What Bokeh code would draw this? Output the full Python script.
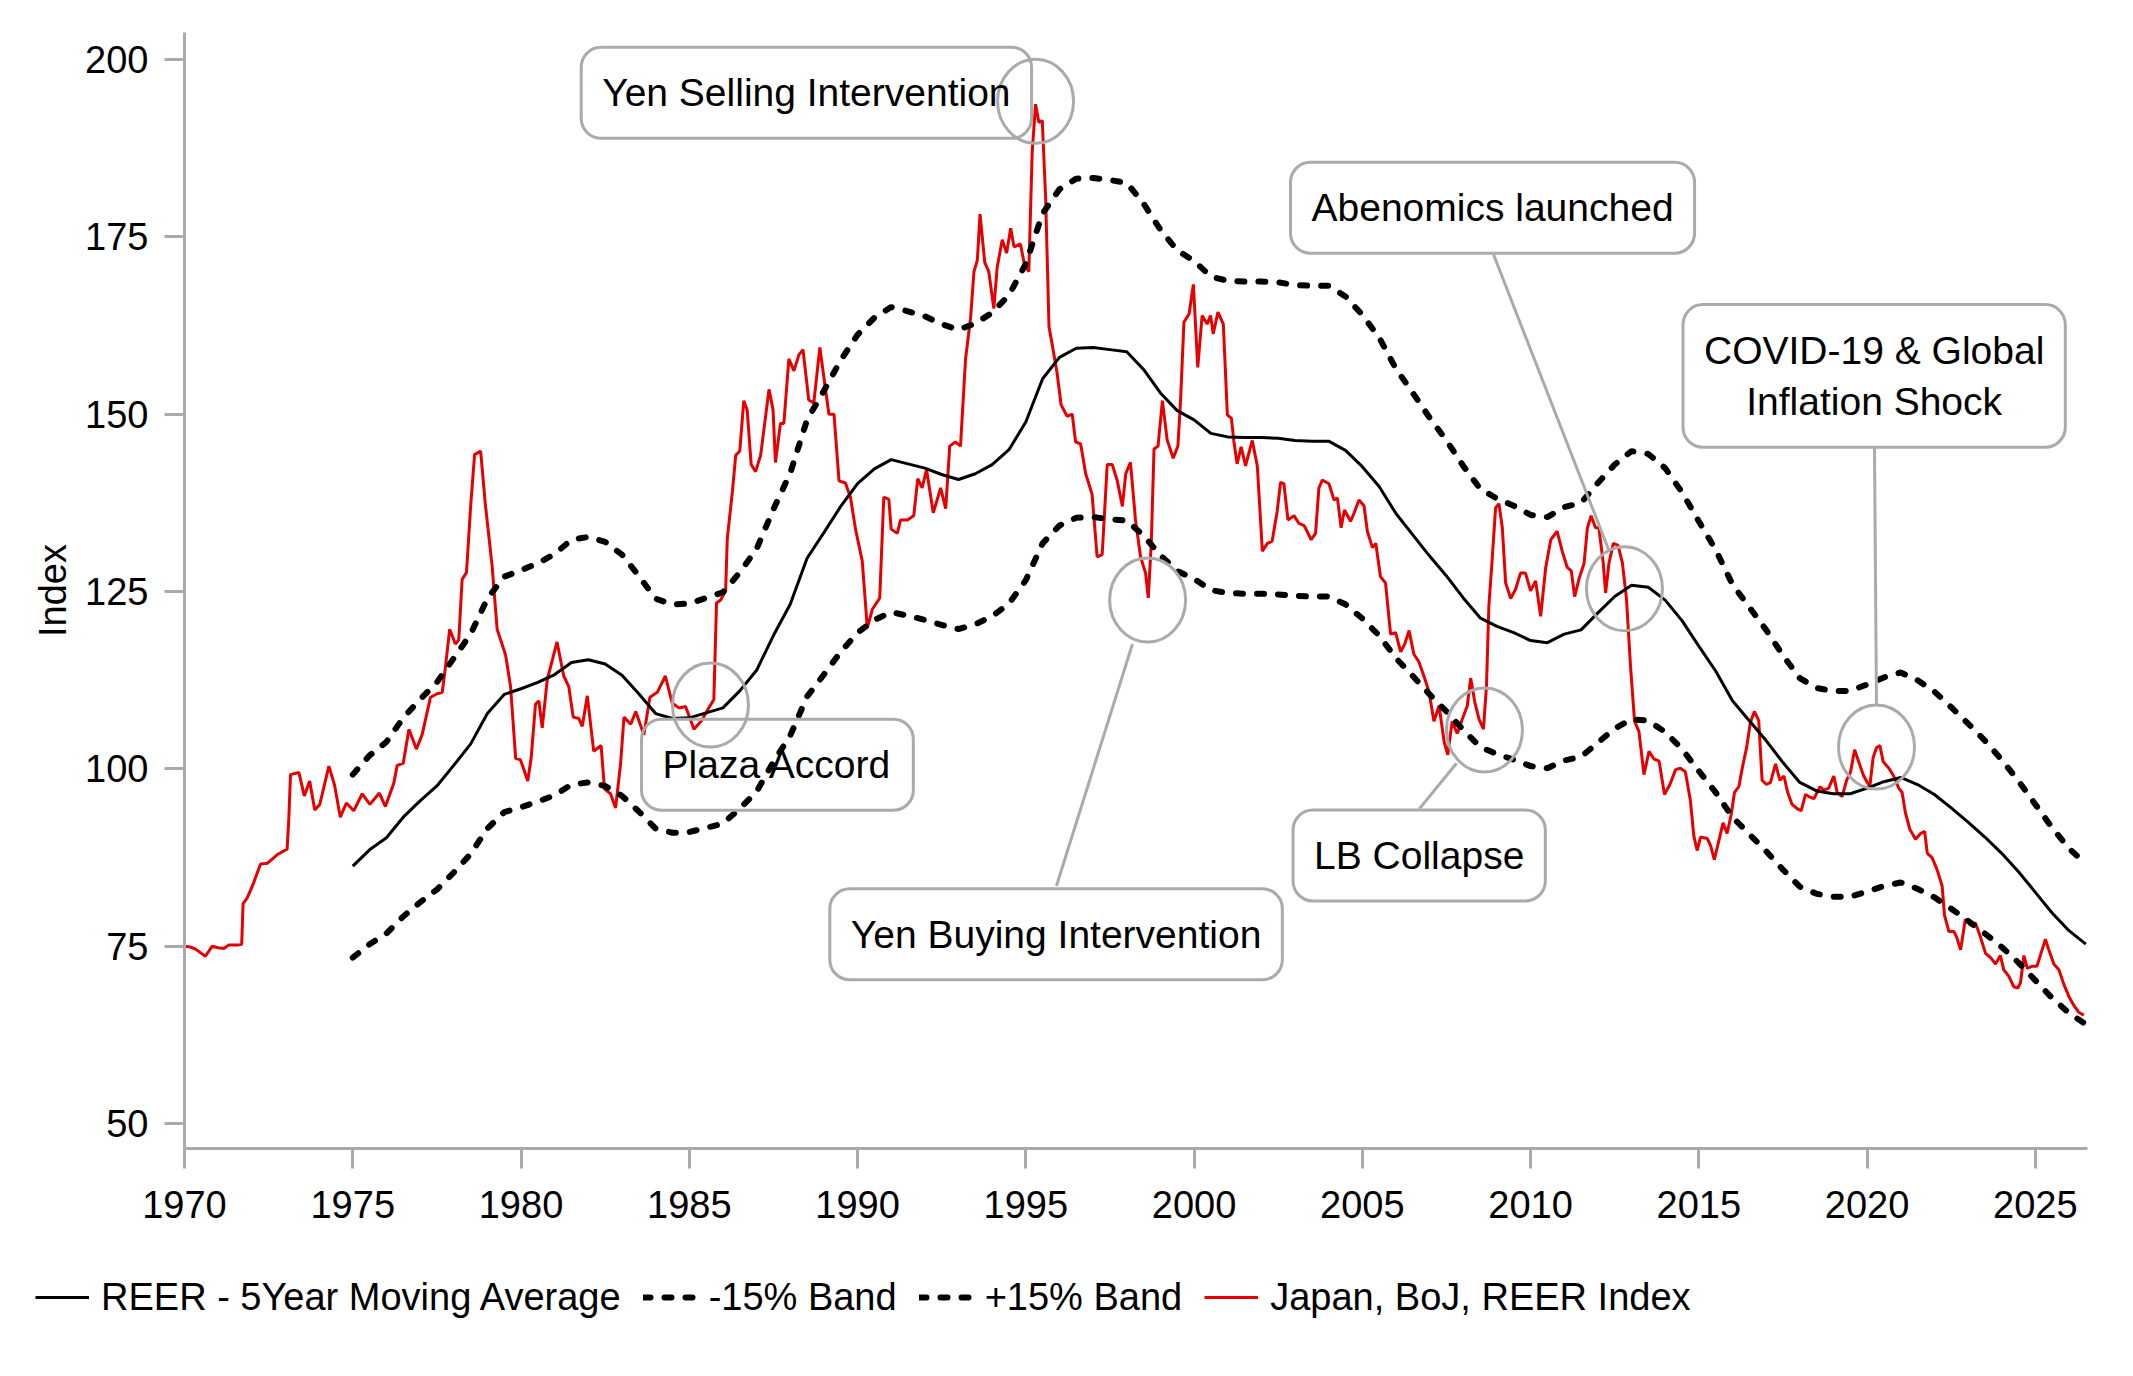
from bokeh.embed import file_html
from bokeh.layouts import column, row
from bokeh.models import FixedTicker, Label, Legend, LegendItem, Range1d
from bokeh.plotting import figure
from bokeh.resources import INLINE

# Japan REER (BoJ), decimal years
reer_year = [
    1970.00, 1970.17, 1970.33, 1970.50, 1970.62, 1970.82, 1971.00, 1971.17, 1971.32, 1971.61,
    1971.70, 1971.74, 1971.86, 1972.01, 1972.26, 1972.46, 1972.75, 1973.05, 1973.10, 1973.15,
    1973.40, 1973.56, 1973.72, 1973.87, 1974.02, 1974.29, 1974.46, 1974.63, 1974.81, 1975.03,
    1975.28, 1975.51, 1975.79, 1975.97, 1976.22, 1976.32, 1976.50, 1976.67, 1976.89, 1977.06,
    1977.31, 1977.51, 1977.66, 1977.76, 1977.88, 1978.05, 1978.15, 1978.25, 1978.38, 1978.50,
    1978.62, 1978.80, 1978.94, 1979.14, 1979.29, 1979.54, 1979.69, 1979.84, 1979.98, 1980.08,
    1980.20, 1980.30, 1980.43, 1980.53, 1980.63, 1980.78, 1981.07, 1981.27, 1981.42, 1981.55,
    1981.72, 1981.82, 1981.97, 1982.16, 1982.38, 1982.48, 1982.66, 1982.81, 1982.96, 1983.06,
    1983.26, 1983.41, 1983.65, 1983.83, 1984.05, 1984.29, 1984.49, 1984.69, 1984.89, 1985.14,
    1985.38, 1985.53, 1985.73, 1985.81, 1985.93, 1986.08, 1986.13, 1986.28, 1986.38, 1986.50,
    1986.62, 1986.72, 1986.84, 1986.97, 1987.12, 1987.37, 1987.49, 1987.56, 1987.71, 1987.81,
    1987.96, 1988.11, 1988.26, 1988.38, 1988.55, 1988.70, 1988.88, 1989.02, 1989.15, 1989.30,
    1989.45, 1989.64, 1989.79, 1989.94, 1990.14, 1990.29, 1990.44, 1990.66, 1990.78, 1990.93,
    1991.00, 1991.18, 1991.28, 1991.48, 1991.67, 1991.79, 1991.92, 1992.05, 1992.25, 1992.47,
    1992.62, 1992.74, 1992.91, 1993.06, 1993.21, 1993.36, 1993.46, 1993.56, 1993.64, 1993.78,
    1993.90, 1994.05, 1994.15, 1994.30, 1994.43, 1994.55, 1994.65, 1994.84, 1994.96, 1995.09,
    1995.19, 1995.29, 1995.39, 1995.49, 1995.59, 1995.69, 1995.79, 1995.93, 1996.05, 1996.23,
    1996.38, 1996.48, 1996.63, 1996.78, 1996.97, 1997.12, 1997.27, 1997.42, 1997.57, 1997.72,
    1997.87, 1997.97, 1998.11, 1998.26, 1998.41, 1998.56, 1998.64, 1998.73, 1998.81, 1998.93,
    1999.06, 1999.20, 1999.38, 1999.52, 1999.60, 1999.70, 1999.85, 1999.98, 2000.11, 2000.24,
    2000.39, 2000.49, 2000.57, 2000.71, 2000.87, 2000.99, 2001.11, 2001.18, 2001.28, 2001.40,
    2001.53, 2001.73, 2001.88, 2002.03, 2002.18, 2002.32, 2002.47, 2002.57, 2002.67, 2002.79,
    2002.97, 2003.12, 2003.27, 2003.36, 2003.48, 2003.61, 2003.71, 2003.81, 2004.01, 2004.16,
    2004.26, 2004.37, 2004.47, 2004.65, 2004.75, 2004.90, 2005.05, 2005.15, 2005.30, 2005.40,
    2005.54, 2005.69, 2005.84, 2005.99, 2006.14, 2006.26, 2006.39, 2006.53, 2006.68, 2006.83,
    2006.98, 2007.13, 2007.28, 2007.43, 2007.54, 2007.67, 2007.82, 2007.97, 2008.12, 2008.22,
    2008.34, 2008.47, 2008.60, 2008.69, 2008.76, 2008.86, 2008.96, 2009.06, 2009.16, 2009.26,
    2009.41, 2009.56, 2009.70, 2009.85, 2010.00, 2010.15, 2010.30, 2010.45, 2010.60, 2010.79,
    2010.94, 2011.09, 2011.21, 2011.31, 2011.44, 2011.59, 2011.69, 2011.80, 2011.93, 2012.03,
    2012.16, 2012.23, 2012.33, 2012.46, 2012.60, 2012.73, 2012.85, 2012.97, 2013.09, 2013.22,
    2013.37, 2013.52, 2013.67, 2013.82, 2013.98, 2014.14, 2014.31, 2014.45, 2014.60, 2014.75,
    2014.85, 2014.95, 2015.05, 2015.25, 2015.35, 2015.46, 2015.59, 2015.72, 2015.84, 2015.96,
    2016.06, 2016.19, 2016.29, 2016.42, 2016.53, 2016.65, 2016.78, 2016.88, 2017.01, 2017.13,
    2017.28, 2017.41, 2017.53, 2017.64, 2017.77, 2017.92, 2018.04, 2018.17, 2018.27, 2018.42,
    2018.60, 2018.71, 2018.86, 2019.01, 2019.11, 2019.26, 2019.39, 2019.51, 2019.63, 2019.75,
    2019.90, 2020.08, 2020.18, 2020.28, 2020.38, 2020.48, 2020.65, 2020.79, 2020.94, 2021.04,
    2021.14, 2021.27, 2021.44, 2021.59, 2021.71, 2021.79, 2021.93, 2022.08, 2022.23, 2022.30,
    2022.43, 2022.58, 2022.66, 2022.78, 2022.92, 2023.07, 2023.22, 2023.37, 2023.52, 2023.67,
    2023.82, 2023.96, 2024.06, 2024.21, 2024.36, 2024.48, 2024.56, 2024.66, 2024.76, 2024.91,
    2025.05, 2025.20, 2025.30, 2025.40, 2025.55, 2025.70, 2025.85, 2026.00, 2026.14, 2026.29,
    2026.44,
]
reer_value = [
    75.0, 74.9, 74.6, 74.0, 73.6, 75.0, 74.8, 74.7, 75.2, 75.2,
    75.3, 81.0, 81.8, 83.4, 86.6, 86.7, 87.9, 88.7, 93.0, 99.2,
    99.5, 96.2, 98.3, 94.2, 95.0, 100.4, 97.7, 93.2, 95.2, 94.1,
    96.5, 95.0, 96.6, 94.7, 98.0, 100.5, 100.8, 105.6, 102.8, 104.8,
    110.1, 110.6, 110.8, 114.6, 119.7, 117.6, 118.2, 126.7, 127.7, 136.8,
    144.3, 144.8, 137.3, 128.7, 119.7, 116.1, 111.6, 101.5, 101.3, 100.0,
    98.3, 101.5, 109.1, 109.6, 105.8, 112.6, 117.9, 113.1, 111.6, 107.3,
    107.1, 106.0, 110.3, 102.5, 103.3, 97.2, 96.5, 94.5, 100.8, 107.3,
    106.3, 108.1, 104.8, 110.1, 110.8, 113.1, 109.3, 108.6, 108.8, 105.6,
    106.9, 108.2, 109.8, 123.4, 123.8, 125.1, 132.5, 139.0, 144.2, 144.8,
    151.9, 150.6, 142.9, 141.9, 144.2, 153.5, 150.6, 143.2, 148.7, 148.7,
    157.8, 156.1, 158.4, 159.1, 152.0, 151.6, 159.4, 154.5, 150.0, 150.0,
    140.6, 140.3, 138.3, 133.8, 129.3, 119.9, 122.5, 124.1, 138.3, 138.0,
    133.8, 133.2, 135.1, 135.1, 135.7, 140.9, 139.6, 142.2, 136.1, 139.6,
    136.7, 145.5, 146.1, 145.5, 157.8, 163.6, 170.1, 171.7, 178.2, 171.4,
    170.1, 164.9, 170.7, 174.6, 172.7, 176.2, 173.6, 174.0, 171.1, 170.1,
    186.9, 193.7, 191.1, 191.4, 180.4, 162.3, 159.7, 155.8, 151.3, 149.7,
    150.0, 146.1, 145.8, 141.6, 138.7, 129.9, 130.2, 142.9, 142.9, 140.6,
    137.0, 141.6, 143.2, 135.1, 129.9, 127.6, 124.1, 131.9, 145.1, 145.5,
    151.9, 146.4, 143.8, 145.5, 152.0, 163.0, 164.1, 168.3, 156.6, 163.9,
    162.7, 163.9, 161.3, 164.4, 162.7, 149.9, 149.4, 146.3, 143.0, 145.4,
    142.7, 146.3, 142.7, 130.7, 131.8, 132.1, 136.3, 140.4, 140.2, 135.1,
    135.7, 134.6, 134.3, 133.5, 132.3, 133.2, 139.6, 140.7, 140.2, 137.9,
    138.2, 134.0, 136.5, 134.9, 136.0, 137.9, 137.1, 133.5, 131.2, 131.8,
    127.1, 126.2, 119.0, 119.2, 116.5, 117.6, 119.5, 116.2, 115.1, 113.1,
    110.9, 106.7, 108.9, 103.9, 102.0, 106.7, 105.0, 107.0, 108.9, 112.8,
    109.5, 107.0, 105.6, 111.7, 122.9, 129.6, 136.8, 137.4, 134.0, 126.2,
    124.0, 125.4, 127.6, 127.6, 125.1, 126.5, 121.5, 128.4, 132.3, 133.5,
    130.7, 128.4, 127.9, 124.3, 126.8, 129.0, 134.0, 135.7, 134.0, 134.0,
    129.0, 124.8, 129.0, 131.8, 131.5, 129.0, 124.0, 114.5, 106.7, 105.3,
    99.2, 102.5, 101.4, 101.1, 96.4, 97.8, 99.9, 100.1, 99.6, 95.5,
    90.6, 88.5, 90.4, 90.2, 89.2, 87.2, 89.8, 92.4, 90.9, 93.5,
    96.7, 97.5, 100.1, 103.0, 106.5, 108.1, 106.8, 98.4, 97.8, 98.1,
    100.7, 98.4, 99.0, 96.7, 95.0, 94.4, 94.1, 96.4, 96.1, 95.8,
    97.5, 97.0, 97.3, 99.0, 96.7, 96.1, 98.4, 99.6, 102.7, 101.0,
    99.0, 97.5, 101.6, 103.0, 103.3, 101.0, 100.1, 99.0, 97.3, 96.7,
    93.8, 91.5, 90.1, 90.9, 91.2, 88.1, 87.5, 85.8, 83.5, 79.4,
    77.1, 77.1, 76.3, 74.5, 78.8, 78.0, 78.3, 76.3, 74.0, 73.4,
    72.5, 73.7, 71.7, 70.8, 69.3, 69.1, 69.9, 73.7, 71.9, 72.2,
    72.2, 74.5, 76.0, 74.5, 72.5, 71.7, 69.6, 67.9, 66.7, 65.7,
    65.3,
]

# 5-year moving average and its bands, half-yearly from 1975.0
ma_year = [1975 + 0.5 * i for i in range(104)]
ma_value = [
    86.3, 88.6, 90.3, 93.2, 95.5, 97.6, 100.5, 103.5, 107.8, 110.5,
    111.3, 112.2, 113.3, 115.0, 115.4, 114.8, 113.2, 110.6, 107.8, 107.1,
    107.2, 107.9, 108.6, 111.0, 113.9, 118.8, 123.2, 129.7, 133.3, 137.0,
    140.2, 142.3, 143.6, 143.0, 142.4, 141.5, 140.8, 141.6, 142.9, 145.0,
    148.9, 155.0, 158.0, 159.3, 159.4, 159.1, 158.8, 156.3, 153.0, 150.5,
    149.2, 147.3, 146.8, 146.7, 146.7, 146.6, 146.3, 146.2, 146.2, 144.9,
    142.6, 139.8, 136.0, 133.0, 130.0, 127.2, 124.1, 121.3, 120.1, 119.2,
    118.1, 117.8, 119.0, 119.6, 122.0, 124.3, 125.9, 125.6, 123.8, 120.9,
    117.3, 113.8, 109.6, 106.8, 104.0, 100.9, 98.1, 96.9, 96.5, 96.5,
    97.3, 98.2, 98.8, 97.8, 96.4, 94.5, 92.5, 90.4, 88.1, 85.5,
    82.6, 79.7, 77.2, 75.3,
]
upper_band = [
    99.2, 101.9, 103.8, 107.2, 109.8, 112.2, 115.6, 119.0, 124.0, 127.1,
    128.0, 129.0, 130.3, 132.3, 132.7, 132.0, 130.2, 127.2, 124.0, 123.2,
    123.3, 124.1, 124.9, 127.7, 131.0, 136.6, 141.7, 149.2, 153.3, 157.6,
    161.2, 163.6, 165.1, 164.5, 163.8, 162.7, 161.9, 162.8, 164.3, 166.8,
    171.2, 178.3, 181.7, 183.2, 183.3, 183.0, 182.6, 179.7, 176.0, 173.1,
    171.6, 169.4, 168.8, 168.7, 168.7, 168.6, 168.2, 168.1, 168.1, 166.6,
    164.0, 160.8, 156.4, 153.0, 149.5, 146.3, 142.7, 139.5, 138.1, 137.1,
    135.8, 135.5, 136.9, 137.5, 140.3, 142.9, 144.8, 144.4, 142.4, 139.0,
    134.9, 130.9, 126.0, 122.8, 119.6, 116.0, 112.8, 111.4, 111.0, 111.0,
    111.9, 112.9, 113.6, 112.5, 110.9, 108.7, 106.4, 104.0, 101.3, 98.3,
    95.0, 91.7, 88.8, 86.6,
]
lower_band = [
    73.4, 75.3, 76.8, 79.2, 81.2, 83.0, 85.4, 88.0, 91.6, 93.9,
    94.6, 95.4, 96.3, 97.8, 98.1, 97.6, 96.2, 94.0, 91.6, 91.0,
    91.1, 91.7, 92.3, 94.4, 96.8, 101.0, 104.7, 110.2, 113.3, 116.5,
    119.2, 121.0, 122.1, 121.6, 121.0, 120.3, 119.7, 120.4, 121.5, 123.3,
    126.6, 131.8, 134.3, 135.4, 135.5, 135.2, 135.0, 132.9, 130.1, 127.9,
    126.8, 125.2, 124.8, 124.7, 124.7, 124.6, 124.4, 124.3, 124.3, 123.2,
    121.2, 118.8, 115.6, 113.1, 110.5, 108.1, 105.5, 103.1, 102.1, 101.3,
    100.4, 100.1, 101.2, 101.7, 103.7, 105.7, 107.0, 106.8, 105.2, 102.8,
    99.7, 96.7, 93.2, 90.8, 88.4, 85.8, 83.4, 82.4, 82.0, 82.0,
    82.7, 83.5, 84.0, 83.1, 81.9, 80.3, 78.6, 76.8, 74.9, 72.7,
    70.2, 67.7, 65.6, 64.0,
]

# annotations: boxed labels, circled events, leader lines
note_text = ["Yen Selling Intervention", "Plaza Accord", "Yen Buying Intervention",
             "LB Collapse", "Abenomics launched", "COVID-19 & Global\nInflation Shock"]
note_x = [1988.48, 1987.62, 1995.90, 2006.69, 2008.87, 2020.21]
note_y = [195.3, 100.6, 76.7, 87.8, 179.1, 155.4]

circle_x = [1995.29, 1985.63, 1998.62, 2008.63, 2012.79, 2020.28]
circle_y = [194.1, 109.0, 123.8, 105.5, 125.4, 103.1]

leader_x0 = [1998.17, 2007.80, 2008.90, 2020.22]
leader_y0 = [117.6, 100.8, 172.5, 145.4]
leader_x1 = [1995.91, 2006.70, 2012.32, 2020.28]
leader_y1 = [83.5, 94.4, 130.9, 109.0]

x_ticks = [1970, 1975, 1980, 1985, 1990, 1995, 2000, 2005, 2010, 2015, 2020, 2025]
y_ticks = [50, 75, 100, 125, 150, 175, 200]

legend_labels = ["REER - 5Year Moving Average", "-15% Band", "+15% Band",
                 "Japan, BoJ, REER Index"]

FONT = "Liberation Sans"
GREY = "#aaaaaa"
RED = "#e60000"
DASH = "7 14"

p = figure(
    width=2117,
    height=1248,
    output_backend="svg",
    toolbar_location=None,
    x_range=Range1d(1970, 2026.55),
    y_range=Range1d(46.5, 203.8),
    min_border_left=184,
    min_border_right=30,
    min_border_top=32,
    min_border_bottom=100,
)
p.outline_line_color = None
p.grid.visible = False

for ax in (p.xaxis, p.yaxis):
    ax.axis_line_color = GREY
    ax.axis_line_width = 3
    ax.major_tick_line_color = GREY
    ax.major_tick_line_width = 3
    ax.major_tick_out = 20
    ax.major_tick_in = 0
    ax.minor_tick_line_color = None
    ax.major_label_text_font = FONT
    ax.major_label_text_font_size = "38px"
    ax.major_label_text_color = "black"
    ax.major_label_standoff = 16
p.xaxis.major_label_standoff = 22

p.xaxis.ticker = FixedTicker(ticks=x_ticks)
p.yaxis.ticker = FixedTicker(ticks=y_ticks)
p.yaxis.axis_label = "Index"
p.yaxis.axis_label_text_font = FONT
p.yaxis.axis_label_text_font_size = "38px"
p.yaxis.axis_label_text_font_style = "normal"
p.yaxis.axis_label_text_color = "black"
p.yaxis.axis_label_standoff = 8

p.line(reer_year, reer_value, line_color=RED, line_width=3)
p.line(ma_year, ma_value, line_color="black", line_width=3)
p.line(ma_year, lower_band, line_color="black", line_width=6, line_dash=DASH, line_cap="round")
p.line(ma_year, upper_band, line_color="black", line_width=6, line_dash=DASH, line_cap="round")

p.ellipse(circle_x, circle_y, width=76, height=84, width_units="screen",
          height_units="screen", fill_color=None, line_color=GREY, line_width=3)
p.segment(leader_x0, leader_y0, leader_x1, leader_y1, line_color=GREY, line_width=3)

for t, x, y in zip(note_text, note_x, note_y):
    p.add_layout(Label(
        x=x, y=y, text=t,
        text_font=FONT, text_font_size="39px", text_color="black",
        text_align="center", text_baseline="middle",
        border_line_color=GREY, border_line_width=3, border_radius=20,
        background_fill_color=None,
        padding=dict(left=21, right=21, top=24, bottom=24),
    ))

# legend strip below the chart; its renderers sit outside the visible range
leg = figure(
    width=2117,
    height=100,
    output_backend="svg",
    toolbar_location=None,
    x_range=Range1d(0, 1),
    y_range=Range1d(0, 1),
    min_border=0,
)
leg.axis.visible = False
leg.grid.visible = False
leg.outline_line_color = None
off = [-5, -4]
g_ma = leg.line(off, off, line_color="black", line_width=3)
g_lo = leg.line(off, off, line_color="black", line_width=6, line_dash=DASH, line_cap="round")
g_hi = leg.line(off, off, line_color="black", line_width=6, line_dash=DASH, line_cap="round")
g_reer = leg.line(off, off, line_color=RED, line_width=3)

legend = Legend(
    items=[LegendItem(label=lab, renderers=[r])
           for lab, r in zip(legend_labels, [g_ma, g_lo, g_hi, g_reer])],
    orientation="horizontal",
    location=(35, 29),
    label_text_font=FONT,
    label_text_font_size="38px",
    label_text_color="black",
    glyph_width=54,
    glyph_height=44,
    label_height=44,
    label_standoff=12,
    spacing=22,
    padding=0,
    margin=0,
    border_line_color=None,
    background_fill_color=None,
)
leg.add_layout(legend)

with open("out.html", "w") as f:
    f.write(file_html(column(p, row(leg)), INLINE))
